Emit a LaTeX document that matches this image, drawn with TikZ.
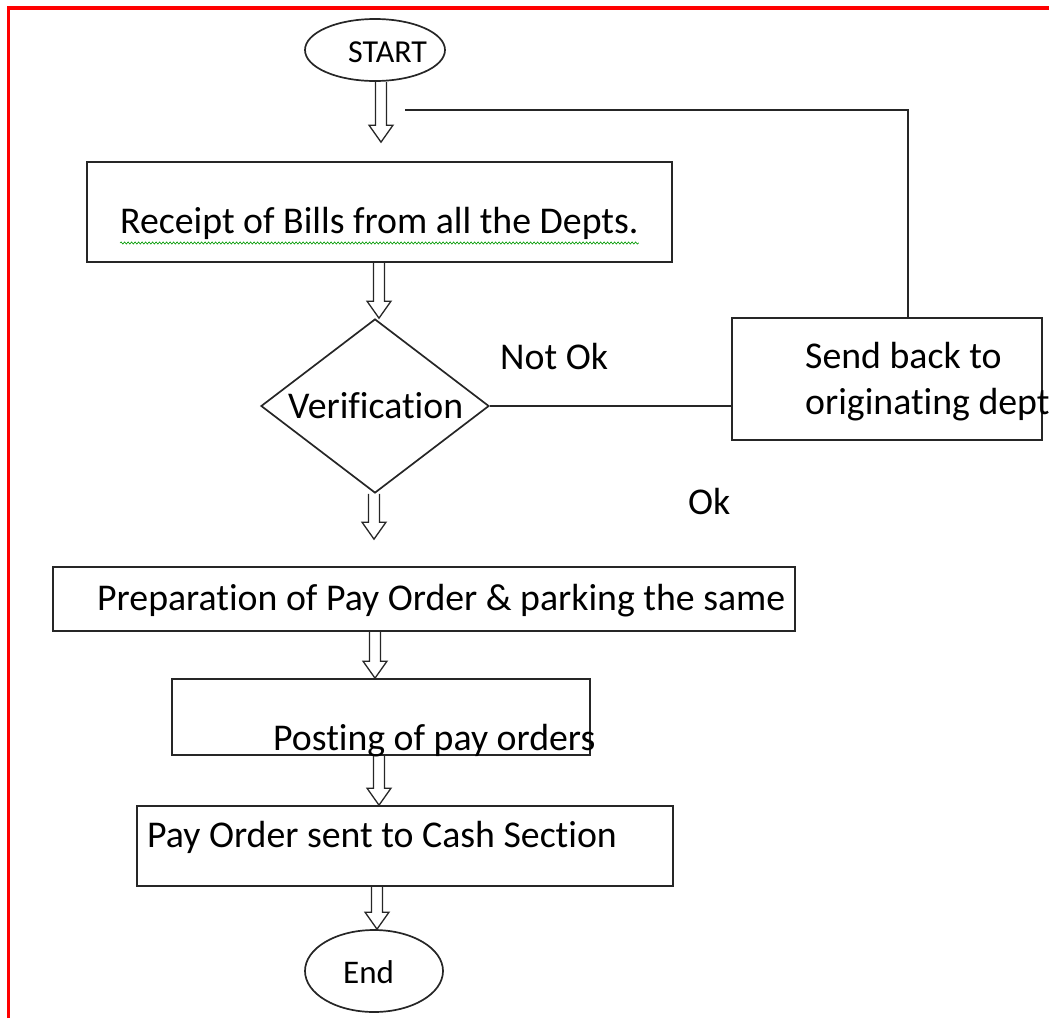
\documentclass[tikz,border=0pt]{standalone}
\usepackage{fontspec}
\setmainfont{Carlito}[Ligatures={NoCommon}]
\usetikzlibrary{shapes.geometric,calc,decorations.pathmorphing}
\begin{document}
\begin{tikzpicture}[x=1pt,y=-1pt,
  shapeline/.style={draw=black!85, line width=1.7pt, inner sep=0pt},
  boxnode/.style={shapeline, rectangle},
  ovalnode/.style={shapeline, ellipse},
  decisionnode/.style={shapeline, diamond},
  txt/.style={inner sep=0pt, anchor=base west, font=\fontsize{37.8}{44}\selectfont},
  link/.style={draw=black!85, line width=1.5pt},
  hollow/.style={draw=black!85, line width=1.3pt, line join=miter,
    to path={let \p1=(\tikztostart), \p2=(\tikztotarget) in
      (\x1-5.5pt,\y1) -- (\x1-5.5pt,\y2+17pt) -- (\x1-12pt,\y2+17pt) -- (\x1,\y2)
      -- (\x1+12pt,\y2+17pt) -- (\x1+5.5pt,\y2+17pt) -- (\x1+5.5pt,\y1)}}
]
\useasboundingbox (0,0) rectangle (1049,1018);
% page frame
\draw[red, line width=3.5pt] (8.5,1018) -- (8.5,8) -- (1049,8);

% shapes
\node[ovalnode, minimum width=140pt, minimum height=62pt] (start) at (375,50) {};
\node[boxnode, minimum width=585pt, minimum height=100pt] (recv) at (379.5,212) {};
\node[decisionnode, minimum width=228pt, minimum height=174pt] (verif) at (375,406) {};
\node[boxnode, minimum width=310pt, minimum height=122pt] (send) at (887,379) {};
\node[boxnode, minimum width=742pt, minimum height=64pt] (prep) at (424,599) {};
\node[boxnode, minimum width=418pt, minimum height=76pt] (post) at (381,717) {};
\node[boxnode, minimum width=536pt, minimum height=80pt] (cash) at (405,846) {};
\node[ovalnode, minimum width=138pt, minimum height=82pt] (stop) at (374,971) {};

% texts
\node[txt, font=\fontsize{32}{38}\selectfont] (tstart) at (348,62) {START};
\node[txt] (trecv) at (120,233) {Receipt of Bills from all the Depts.};
\node[txt] (tverif) at (288,418) {Verification};
\node[txt] (tnotok) at (500,369) {Not Ok};
\node[txt] (tsend1) at (805,368) {Send back to};
\node[txt] (tsend2) at (805,414) {originating dept};
\node[txt] (tok) at (688,514) {Ok};
\node[txt] (tprep) at (97,610) {Preparation of Pay Order \& parking the same};
\node[txt] (tpost) at (273,750) {Posting of pay orders};
\node[txt] (tcash) at (147,847) {Pay Order sent to Cash Section};
\node[txt, font=\fontsize{33}{40}\selectfont] (tstop) at (343,983) {End};

% spelling squiggle
\draw[green!60!black, line width=0.6pt, decorate,
  decoration={snake, amplitude=1.1pt, segment length=3.5pt}]
  ([yshift=-10pt]trecv.base west) -- ([yshift=-10pt]trecv.base east);

% hollow arrows
\draw[hollow] ([xshift=6pt]start.south) to ([xshift=6pt,yshift=19pt]recv.north);
\draw[hollow] ([xshift=-0.5pt]recv.south) to ([xshift=4pt]verif.north);
\draw[hollow] ([xshift=-1pt]verif.south) to ([xshift=-1pt,yshift=27pt]prep.north);
\draw[hollow] ([xshift=-49pt]prep.south) to ([xshift=-6pt]post.north);
\draw[hollow] ([xshift=-2pt]post.south) to ([xshift=-26pt]cash.north);
\draw[hollow] ([xshift=-28pt]cash.south) to ([xshift=3pt]stop.north);

% feedback path
\coordinate (fbend) at (405,110);
\draw[link] (verif.east) -- (verif.east -| send.west);
\draw[link] ([xshift=21pt]send.north) |- (fbend);
\end{tikzpicture}
\end{document}
